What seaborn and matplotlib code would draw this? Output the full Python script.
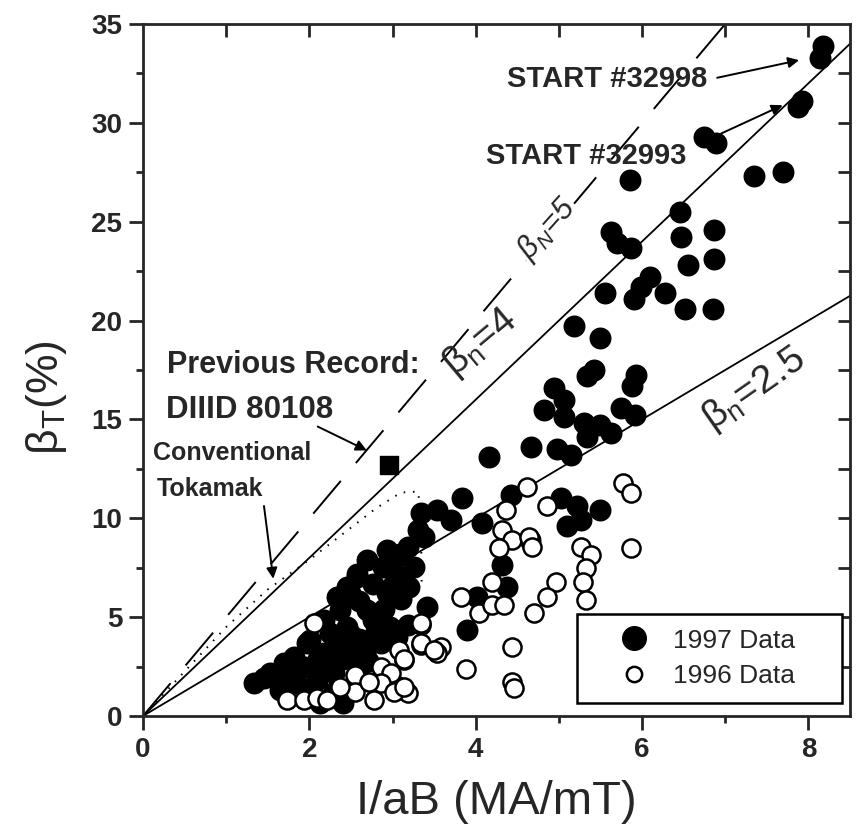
import matplotlib
matplotlib.use("Agg")
import matplotlib.pyplot as plt
from matplotlib.lines import Line2D
from matplotlib.patches import Rectangle
from matplotlib.ticker import MultipleLocator
import pandas as pd
import seaborn as sns

# 1997 data (filled)
x_1997 = [8.18, 8.14, 7.92, 7.88, 6.75, 6.89, 7.35, 7.69, 5.85, 6.45, 5.63, 5.70, 5.87,
          6.47, 6.87, 6.55, 6.87, 5.55, 6.09, 5.99, 5.90, 6.27, 6.51, 6.85, 5.18, 5.50,
          5.42, 5.34, 5.93, 5.88, 4.94, 5.06, 4.82, 5.06, 5.75, 5.92, 5.30, 5.50, 5.63,
          5.34, 4.66, 4.98, 5.14, 4.16,
          3.84, 3.54, 3.70, 3.34, 3.30, 3.38, 3.18, 3.02, 2.89, 4.42, 4.08, 4.65, 4.32,
          4.38, 4.02, 3.90, 3.42, 3.18, 5.02, 5.22, 5.50, 5.10, 5.27,
          1.33, 1.53, 1.69, 1.81, 1.97, 2.17, 2.25, 2.37, 2.49, 2.57, 2.69, 2.93, 3.09,
          2.45, 2.69, 2.53, 2.29, 2.09, 1.89, 1.65, 2.93, 2.77, 3.10, 2.77, 2.97, 2.86,
          2.69, 3.26, 2.01, 2.17, 2.33, 2.45, 2.57, 2.13, 2.41, 2.60,
          2.20, 2.40, 2.60, 2.80, 2.90, 3.10, 3.00, 2.60, 2.35, 1.75, 1.95, 2.10, 2.70,
          3.05, 3.20, 2.00, 2.30, 2.85, 2.50, 1.45]
y_1997 = [33.9, 33.3, 31.1, 30.8, 29.3, 28.97, 27.3, 27.5, 27.1, 25.5, 24.5, 23.9, 23.65,
          24.25, 24.6, 22.8, 23.1, 21.4, 22.2, 21.7, 21.1, 21.4, 20.6, 20.6, 19.7, 19.1,
          17.5, 17.2, 17.25, 16.7, 16.6, 16.0, 15.5, 15.1, 15.6, 15.2, 14.8, 14.7, 14.3,
          14.1, 13.6, 13.5, 13.2, 13.1,
          11.0, 10.4, 9.9, 10.25, 9.4, 9.07, 8.56, 7.9, 7.55, 11.2, 9.74, 8.9, 7.64,
          6.54, 6.03, 4.35, 5.53, 4.6, 11.0, 10.6, 10.4, 9.6, 9.9,
          1.65, 2.16, 2.66, 3.0, 3.68, 3.17, 4.18, 5.36, 6.2, 7.05, 7.89, 8.4, 8.2,
          4.52, 5.36, 3.17, 2.16, 1.82, 1.48, 1.31, 6.2, 6.7, 7.05, 4.85, 4.52, 3.68,
          3.5, 7.55, 3.84, 4.86, 6.03, 6.54, 7.2, 0.64, 0.64, 2.5,
          2.6, 2.9, 3.9, 4.3, 5.4, 5.9, 6.6, 5.8, 3.6, 2.0, 2.5, 2.9, 2.8,
          4.0, 6.5, 1.3, 1.2, 5.0, 4.1, 1.9]

# 1996 data (open)
x_1996 = [5.77, 5.87, 4.86, 4.62, 4.36, 4.32, 4.44, 4.64, 4.68, 4.28, 4.20, 3.82, 4.04,
          4.20, 4.34, 5.27, 5.39, 5.33, 5.29, 5.33, 4.96, 4.86, 4.70, 4.44, 3.88, 4.44,
          4.46, 3.58, 3.34, 3.54, 3.34, 3.14, 3.06, 3.18, 2.78, 2.86, 2.98, 2.86, 2.05,
          1.73, 1.93, 2.09, 2.21, 2.55, 2.55, 3.02, 3.14, 3.08, 3.14, 3.34, 3.50, 2.37,
          2.72, 5.87, 3.34]
y_1996 = [11.76, 11.3, 10.6, 11.6, 10.4, 9.4, 8.9, 9.07, 8.56, 8.48, 6.8, 6.03, 5.2,
          5.6, 5.6, 8.56, 8.14, 7.47, 6.8, 5.87, 6.8, 6.03, 5.2, 3.5, 2.4, 1.73,
          1.4, 3.5, 3.6, 3.2, 4.6, 2.83, 1.5, 1.15, 0.8, 2.5, 2.15, 1.65, 4.7,
          0.8, 0.8, 0.89, 0.81, 2.07, 1.23, 1.23, 1.48, 3.34, 2.9, 3.68, 3.34, 1.48,
          1.73, 8.48, 4.68]

# previous record DIIID 80108
record_x = [2.96]
record_y = [12.7]

# conventional tokamak boundary (dotted)
conv_x = [0, 0.6, 1.0, 1.5, 2.0, 2.4, 2.8, 3.1, 3.3, 3.34, 3.35]
conv_y = [0, 2.7, 4.5, 6.4, 7.9, 9.2, 10.5, 11.3, 11.35, 10.6, 6.5]

# beta_n limit lines
beta_n = [4, 2.5]
line_x = [0, 8.5]
dash_beta = 5
dash_x = [0, 7.0]

df97 = pd.DataFrame({"x": x_1997, "y": y_1997})
df96 = pd.DataFrame({"x": x_1996, "y": y_1996})

sns.set_style("ticks")
plt.rcParams["font.family"] = ["Liberation Sans", "DejaVu Sans"]
plt.rcParams["mathtext.fontset"] = "custom"
plt.rcParams["mathtext.rm"] = "Liberation Sans"
plt.rcParams["mathtext.it"] = "Liberation Sans:italic"

fig = plt.figure(figsize=(8.58, 8.33), dpi=100)
ax = fig.add_axes([0.1667, 0.1405, 0.824, 0.8307])

# reference lines
for bn in beta_n:
    ax.plot(line_x, [bn * v for v in line_x], color="black", lw=1.3, zorder=1)
ax.plot(dash_x, [dash_beta * v for v in dash_x], color="black", lw=1.4,
        dashes=(22, 12), zorder=1)
ax.plot(conv_x, conv_y, color="black", lw=1.4, linestyle=(0, (0.8, 4)), zorder=1)

sns.scatterplot(data=df97, x="x", y="y", ax=ax, color="black", s=250,
                linewidth=0, zorder=3)
sns.scatterplot(data=df96, x="x", y="y", ax=ax, facecolor="white", edgecolor="black",
                s=170, linewidth=1.8, zorder=4)
ax.scatter(record_x, record_y, marker="s", s=170, color="black", zorder=4)

ax.set_xlim(0, 8.5)
ax.set_ylim(0, 35)
ax.xaxis.set_major_locator(MultipleLocator(2))
ax.xaxis.set_minor_locator(MultipleLocator(1))
ax.yaxis.set_major_locator(MultipleLocator(5))
ax.yaxis.set_minor_locator(MultipleLocator(2.5))
ax.tick_params(which="major", direction="out", length=10, width=2, labelsize=20, pad=5)
ax.tick_params(which="minor", direction="out", length=5, width=2)
for lab in ax.get_xticklabels() + ax.get_yticklabels():
    lab.set_fontweight("bold")
for sp in ax.spines.values():
    sp.set_linewidth(2)

top = ax.secondary_xaxis("top")
top.set_xticks([1, 2, 3, 4, 5, 6, 7, 8])
top.tick_params(direction="in", length=9, width=2, labeltop=False)
right = ax.secondary_yaxis("right")
right.set_yticks([2.5 * i for i in range(1, 14)])
right.tick_params(direction="in", length=9, width=2, labelright=False)

ax.set_xlabel("I/aB (MA/mT)", fontsize=34)
ax.xaxis.set_label_coords(0.5, -0.092)
ax.set_ylabel(r"$\mathrm{\beta_T}$(%)", fontsize=32)
ax.yaxis.set_label_coords(-0.105, 0.46)

# line labels
ax.text(4.05, 18.9, r"$\mathrm{\beta_n}$=4", fontsize=28, rotation=40,
        ha="center", va="center")
ax.text(7.35, 16.5, r"$\mathrm{\beta_n}$=2.5", fontsize=28, rotation=35,
        ha="center", va="center")
ax.text(4.86, 24.6, r"$\beta_N$=5", fontsize=22, rotation=48, ha="center", va="center",
        style="italic", bbox=dict(facecolor="white", edgecolor="none", pad=1), zorder=2)

ax.text(0.29, 17.75, "Previous Record:", fontsize=22, fontweight="bold", va="center")
ax.text(0.28, 15.5, "DIIID 80108", fontsize=22.5, fontweight="bold", va="center")
ax.text(0.12, 13.3, "Conventional", fontsize=18, fontweight="bold", va="center")
ax.text(0.16, 11.5, "Tokamak", fontsize=18, fontweight="bold", va="center")
ax.text(4.38, 32.2, "START #32998", fontsize=21, fontweight="bold", va="center")
ax.text(4.12, 28.3, "START #32993", fontsize=21, fontweight="bold", va="center")

arrow = dict(arrowstyle="-|>", color="black", lw=1.4, mutation_scale=16)
ax.annotate("", xy=(1.57, 6.8), xytext=(1.45, 10.76), arrowprops=arrow)
ax.annotate("", xy=(2.72, 13.37), xytext=(2.07, 14.7), arrowprops=arrow)
ax.annotate("", xy=(7.92, 33.2), xytext=(6.87, 32.25), arrowprops=arrow)
ax.annotate("", xy=(7.72, 30.95), xytext=(6.92, 29.4), arrowprops=arrow)

# legend box and entries
ax.add_patch(Rectangle((0.614, 0.019), 0.375, 0.128, transform=ax.transAxes,
                       facecolor="white", edgecolor="black", lw=1.8, zorder=5))
handles = [
    Line2D([], [], marker="o", linestyle="none", markerfacecolor="black",
           markeredgecolor="black", markersize=17, label="1997 Data"),
    Line2D([], [], marker="o", linestyle="none", markerfacecolor="white",
           markeredgecolor="black", markeredgewidth=1.8, markersize=11, label="1996 Data"),
]
leg = ax.legend(handles=handles, loc="center", bbox_to_anchor=(0.797, 0.083),
                fontsize=19, frameon=False, handlelength=1.2, handletextpad=0.9,
                labelspacing=0.45, borderpad=0)
leg.set_zorder(6)

fig.savefig("out.png", dpi=100)
